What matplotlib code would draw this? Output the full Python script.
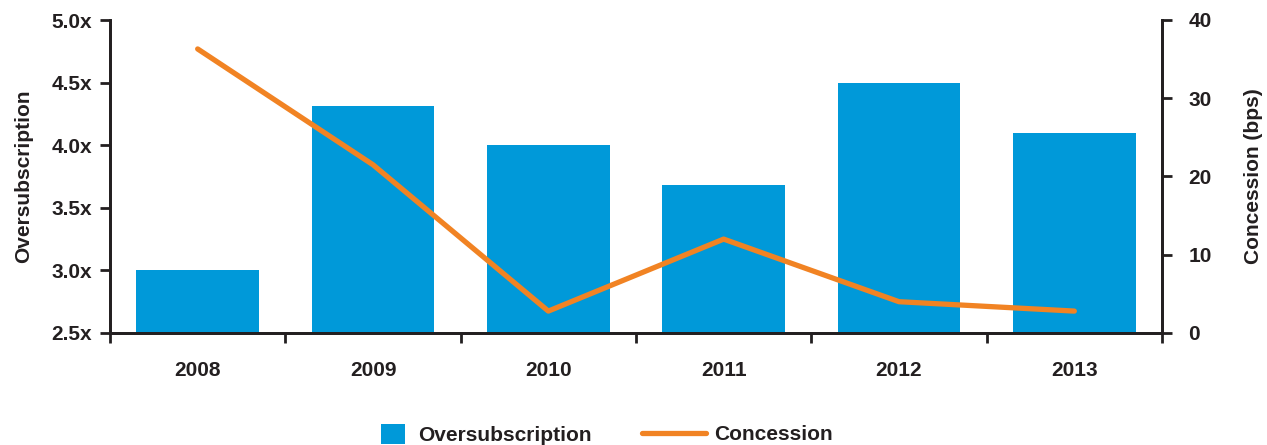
import matplotlib
matplotlib.use("Agg")
import matplotlib.pyplot as plt
from matplotlib.patches import Patch
from matplotlib.lines import Line2D
import numpy as np

years = ["2008", "2009", "2010", "2011", "2012", "2013"]
oversubscription = [3.0, 4.31, 4.0, 3.68, 4.5, 4.1]
concession = [36.3, 21.5, 2.8, 12.0, 4.0, 2.8]
left_ticks = [2.5, 3.0, 3.5, 4.0, 4.5, 5.0]
left_labels = ["2.5x", "3.0x", "3.5x", "4.0x", "4.5x", "5.0x"]
right_ticks = [0, 10, 20, 30, 40]

BLUE = "#0099D9"
ORANGE = "#F18323"
TXT = "#231F20"
FS = 15

plt.rcParams['font.family'] = ['Liberation Sans', 'DejaVu Sans']
plt.rcParams['font.weight'] = 'bold'

fig = plt.figure(figsize=(12.67, 4.45), dpi=100)
ax = fig.add_axes([110/1267, 1-333/445, (1162-110)/1267, (333-20)/445])
x = np.arange(len(years))
ax.bar(x, [v - 2.5 for v in oversubscription], bottom=2.5, width=0.7, color=BLUE, zorder=2)
ax.set_xlim(-0.5, len(years) - 0.5)
ax.set_ylim(2.5, 5.0)
ax.set_yticks(left_ticks)
ax.set_yticklabels(left_labels, fontsize=FS, fontweight='bold', color=TXT)
ax.set_xticks(np.arange(-0.5, len(years)))
ax.set_xticklabels([])
ax.set_xticks(x, minor=True)
ax.set_xticklabels(years, minor=True, fontsize=FS, fontweight='bold', color=TXT)
ax.tick_params(axis='x', which='major', length=7, width=2, color=TXT, direction='out')
ax.tick_params(axis='x', which='minor', length=0, pad=20)
ax.tick_params(axis='y', length=7, width=2, color=TXT, direction='out', pad=6)
for s in ['left', 'bottom', 'right']:
    ax.spines[s].set_linewidth(2)
    ax.spines[s].set_color(TXT)
ax.spines['top'].set_visible(False)
ax.set_ylabel("Oversubscription", fontsize=FS, fontweight='bold', color=TXT, labelpad=13)

ax2 = ax.twinx()
ax2.plot(x, concession, color=ORANGE, lw=3.8, solid_capstyle='round', solid_joinstyle='round', zorder=3)
ax2.set_ylim(0, 40)
ax2.set_yticks(right_ticks)
ax2.set_yticklabels([str(t) for t in right_ticks], fontsize=FS, fontweight='bold', color=TXT)
ax2.tick_params(axis='y', length=7, width=2, color=TXT, direction='out', pad=12)
for s in ['left', 'bottom', 'right']:
    ax2.spines[s].set_linewidth(2)
    ax2.spines[s].set_color(TXT)
ax2.spines['top'].set_visible(False)
ax2.set_ylabel("Concession (bps)", fontsize=FS, fontweight='bold', color=TXT, labelpad=23)

leg1 = fig.legend([Patch(facecolor=BLUE, edgecolor='none')], ["Oversubscription"],
                  loc='center', bbox_to_anchor=(0.384, 0.024), frameon=False,
                  prop={'size': FS, 'weight': 'bold'}, handlelength=1.15,
                  handleheight=1.15, handletextpad=0.65)
leg2 = fig.legend([Line2D([0], [0], color=ORANGE, lw=3.8, solid_capstyle='round')], ["Concession"],
                  loc='center', bbox_to_anchor=(0.582, 0.024), frameon=False,
                  prop={'size': FS, 'weight': 'bold'}, handlelength=3.1,
                  handletextpad=0.4)
for lg in (leg1, leg2):
    for t in lg.get_texts():
        t.set_color(TXT)

fig.savefig("out.png", dpi=100)
